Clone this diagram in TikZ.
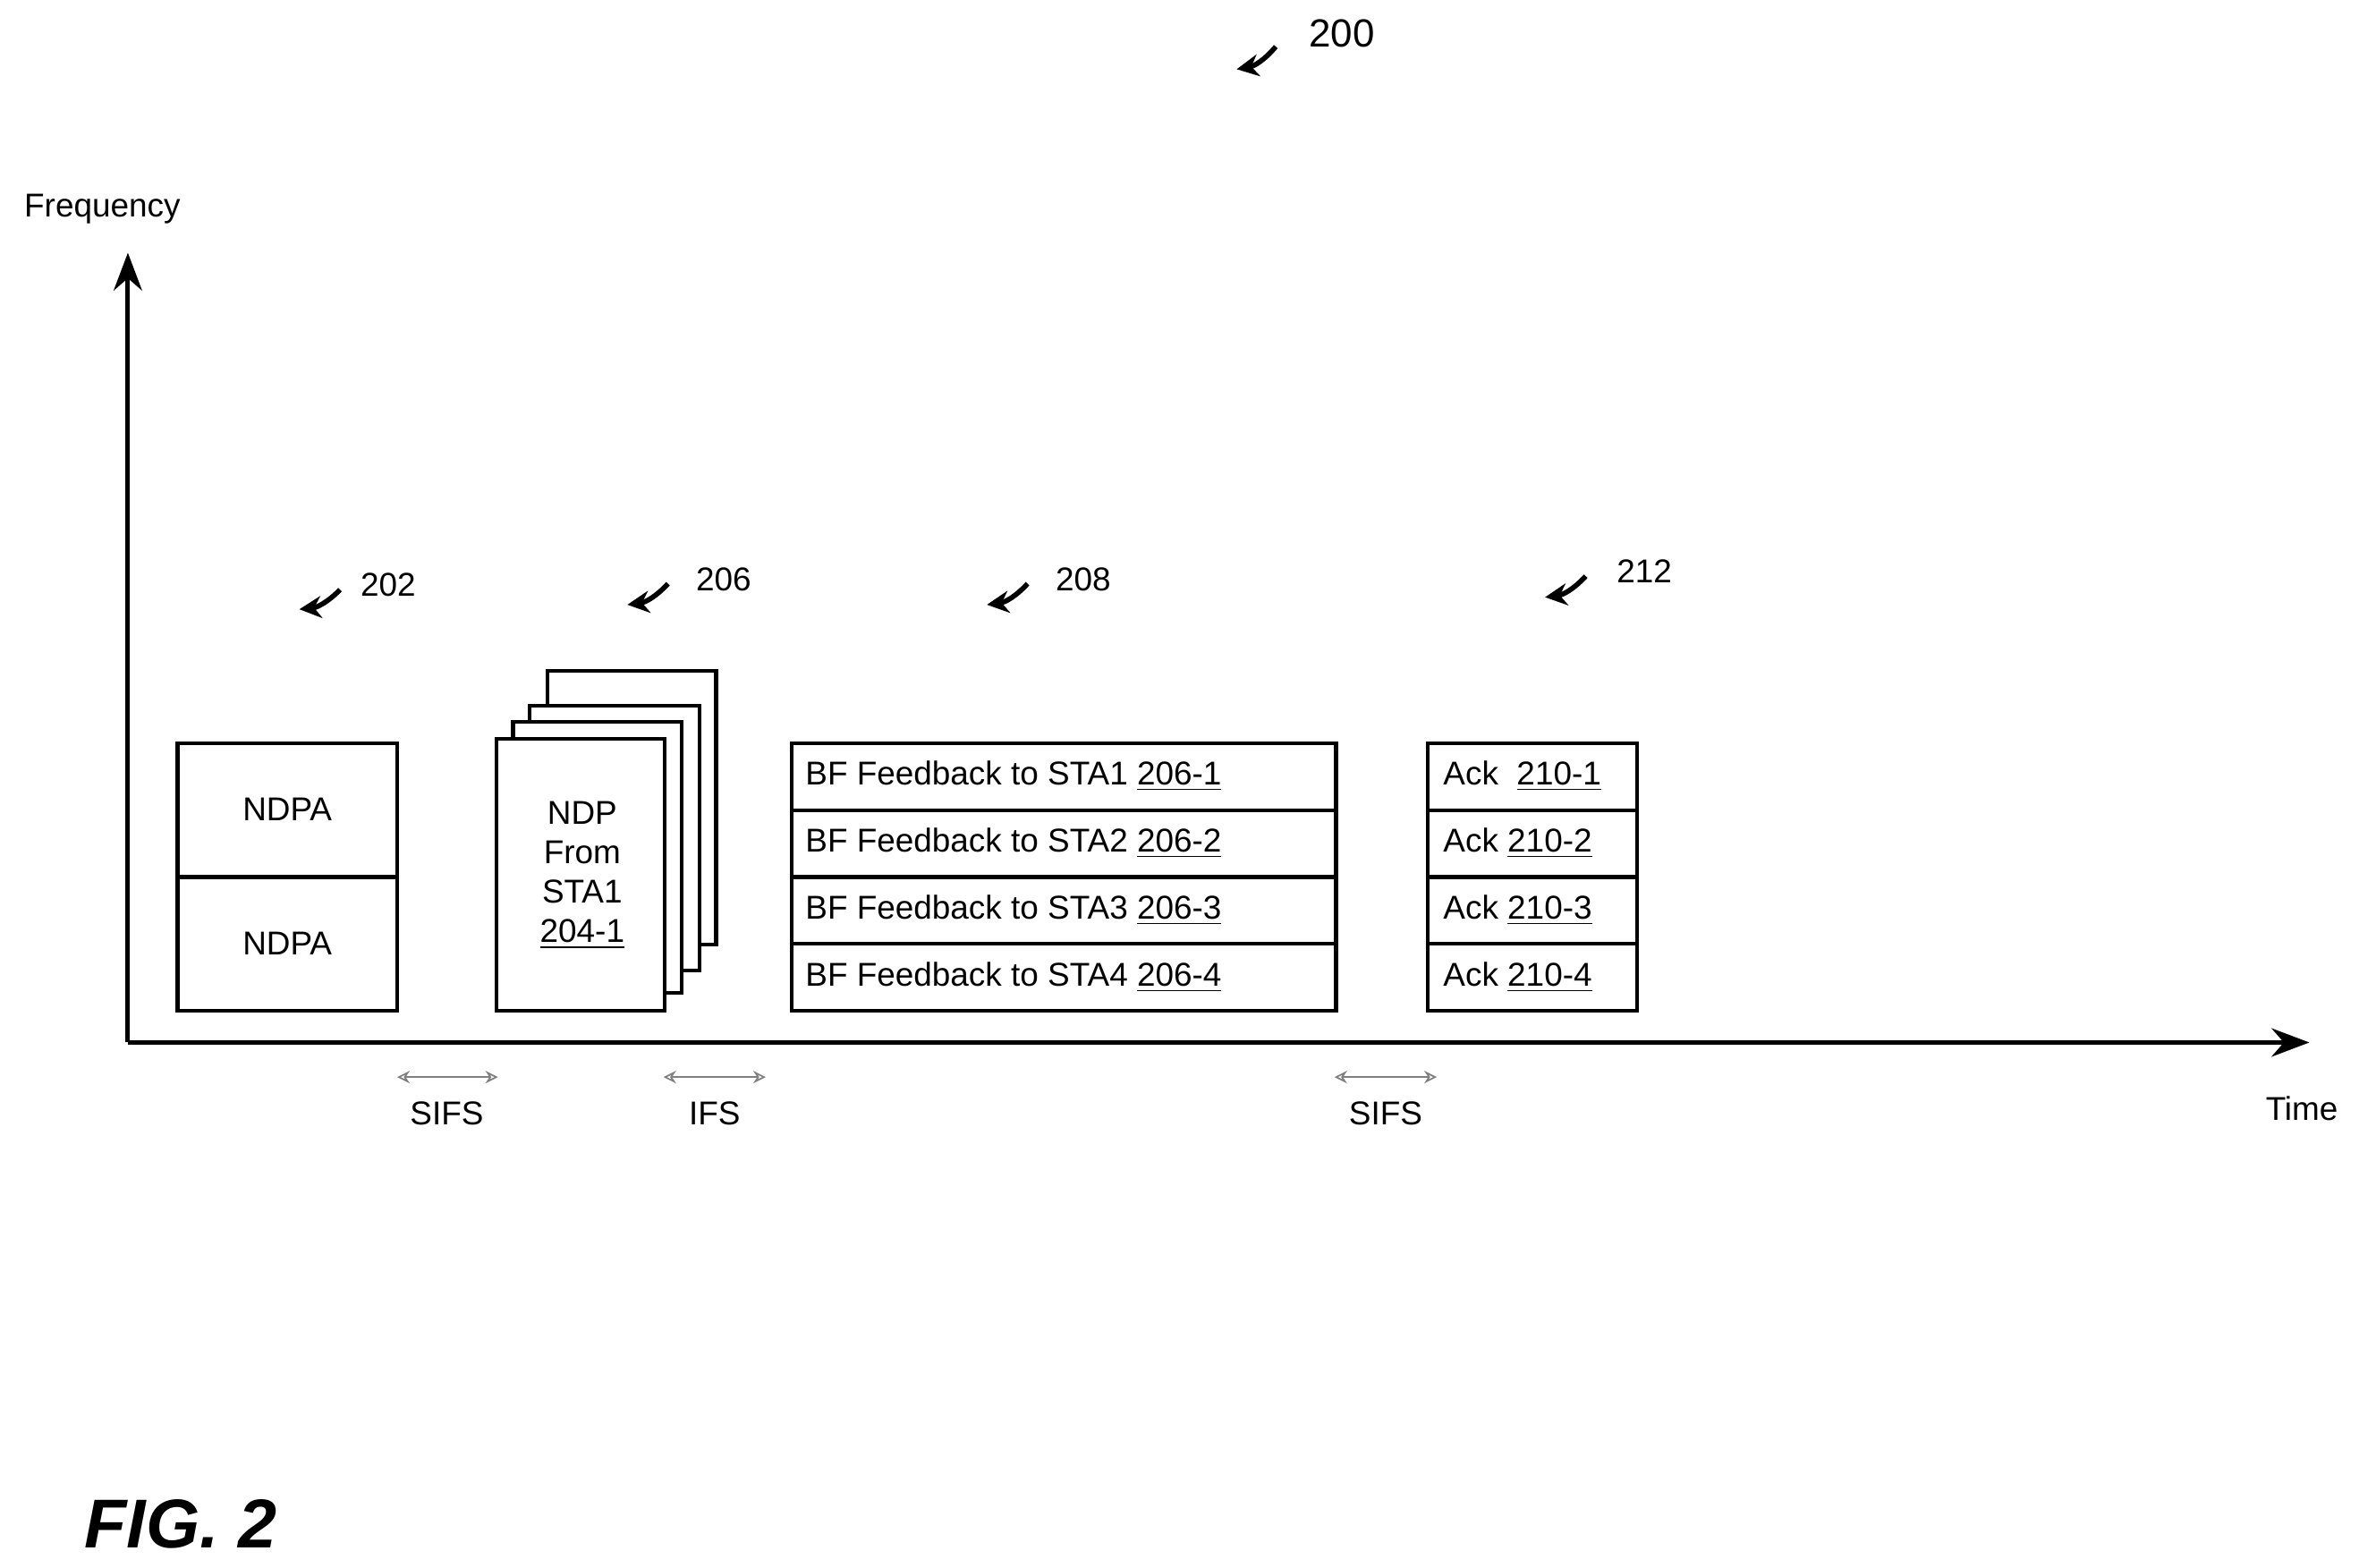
\documentclass[tikz,border=0pt]{standalone}
\usepackage{fontspec}
\setmainfont{Liberation Sans}
\usetikzlibrary{calc,positioning,arrows.meta}
\tikzset{>=stealth}
\tikzset{
  frame/.style={draw,line width=1.2pt,fill=white},
  refarrow/.style={->,line width=1.6pt,bend left=25,>={Stealth[length=7pt,width=7pt]}},
  gap/.style={<->,gray,line width=0.5pt,>={Stealth[open,length=4pt,width=4pt]}},
  lbl/.style={font=\fontsize{10.5}{12.5}\selectfont}
}
\begin{document}
\begin{tikzpicture}[x=0.016818cm,y=-0.016818cm,lbl]
  \useasboundingbox (0,0) rectangle (1568,1042);
  % axes
  \coordinate (o) at (85,693);
  \draw[->,line width=1.4pt,>={Stealth[length=12pt,width=9pt]}] (o) -- (85,168);
  \draw[->,line width=1.4pt,>={Stealth[length=12pt,width=9pt]}] (o) -- (1535,693);
  \node[lbl] (freq) at (68,139) {Frequency};
  \node[lbl] (time) at (1530,737) {Time};
  % NDPA
  \draw[frame] (118,494) rectangle (264,583);
  \draw[frame] (118,583) rectangle (264,672);
  \node (ndpa1) at (191,538) {NDPA};
  \node (ndpa2) at (191,627) {NDPA};
  % NDP stack
  \draw[frame] (364,446) rectangle (476,628);
  \draw[frame] (352,469) rectangle (465,645);
  \draw[frame] (341,480) rectangle (453,660);
  \draw[frame] (330,491) rectangle (442,672);
  \node[align=center] (ndp) at (387,582) {NDP\\From\\STA1\\\underline{204-1}};
  % BF feedback
  \foreach \i in {1,...,4}{
    \draw[frame] (526,{494+(\i-1)*44.5}) rectangle (888,{494+\i*44.5});
    \node[anchor=west] (bf\i) at (528,{516+(\i-1)*44.5}) {BF Feedback to STA\i{} \underline{206-\i}};
    \draw[frame] (949,{494+(\i-1)*44.5}) rectangle (1088,{494+\i*44.5});
  }
  \node[anchor=west] (ack1) at (952,516) {Ack\ \ \underline{210-1}};
  \foreach \i in {2,3,4}
    \node[anchor=west] (ack\i) at (952,{516+(\i-1)*44.5}) {Ack \underline{210-\i}};
  % gaps
  \draw[gap] (264,716) -- (331,716);
  \node (sifs1) at (297,740) {SIFS};
  \draw[gap] (441,716) -- (509,716);
  \node (ifs) at (475,740) {IFS};
  \draw[gap] (887,716) -- (955,716);
  \node (sifs2) at (921,740) {SIFS};
  % reference numerals
  \node[font=\fontsize{12.5}{14}\selectfont] (r200) at (892,22) {200};
  \draw[refarrow,bend left=20] (848,31) to (822,46);
  \node (r202) at (258,389) {202};
  \draw[refarrow,bend left=20] (226,392) to (199,405);
  \node (r206) at (481,385) {206};
  \draw[refarrow,bend left=20] (444,388) to (417,402);
  \node (r208) at (720,385) {208};
  \draw[refarrow,bend left=20] (683,388) to (656,402);
  \node (r212) at (1093,380) {212};
  \draw[refarrow,bend left=20] (1054,383) to (1027,397);
  \node[font=\fontsize{22}{24}\selectfont\bfseries\itshape] (fig) at (120,1013) {FIG. 2};
\end{tikzpicture}
\end{document}
